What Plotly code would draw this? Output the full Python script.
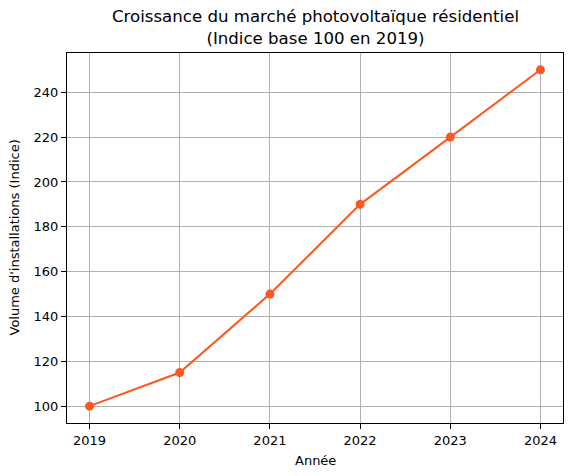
import plotly.graph_objects as go

# Données : indice base 100 en 2019
annees = [2019, 2020, 2021, 2022, 2023, 2024]
indice = [100, 115, 150, 190, 220, 250]
ticks_y = [100, 120, 140, 160, 180, 200, 220, 240]

couleur = '#FF5722'
police = 'DejaVu Sans'

fig = go.Figure()

fig.add_trace(go.Scatter(
    x=annees,
    y=indice,
    mode='lines+markers',
    line=dict(color=couleur, width=2),
    marker=dict(color=couleur, size=9),
    showlegend=False
))

axe = dict(
    showline=True,
    linecolor='black',
    linewidth=1.1,
    mirror=True,
    ticks='outside',
    ticklen=5,
    tickwidth=1.1,
    tickcolor='black',
    showgrid=True,
    gridcolor='#b0b0b0',
    gridwidth=1.1,
    zeroline=False,
    automargin=False,
    tickfont=dict(family=police, size=13, color='black'),
)

fig.update_layout(
    width=571,
    height=476,
    margin=dict(l=67, r=8, t=53, b=53),
    paper_bgcolor='white',
    plot_bgcolor='white',
    font=dict(family=police, color='black'),
    xaxis=dict(axe, range=[2018.75, 2024.25], tickvals=annees),
    yaxis=dict(axe, range=[92.5, 257.5], tickvals=ticks_y),
)

# titre et libellés des axes
fig.add_annotation(
    text='Croissance du marché photovoltaïque résidentiel<br>(Indice base 100 en 2019)',
    xref='paper', yref='paper', x=0.5, y=1, yshift=3,
    xanchor='center', yanchor='bottom', showarrow=False,
    font=dict(family=police, size=16.6, color='black'),
)
fig.add_annotation(
    text='Année',
    xref='paper', yref='paper', x=0.5, y=0, yshift=-28,
    xanchor='center', yanchor='top', showarrow=False,
    font=dict(family=police, size=13, color='black'),
)
fig.add_annotation(
    text="Volume d'installations (Indice)",
    xref='paper', yref='paper', x=0, y=0.5, xshift=-44,
    xanchor='right', yanchor='middle', textangle=-90, showarrow=False,
    font=dict(family=police, size=13, color='black'),
)

# pas de marge du body, pour que la figure tienne dans la fenêtre
fig.write_html("out.html", config={'displayModeBar': False},
               post_script="document.body.style.margin='0';")
